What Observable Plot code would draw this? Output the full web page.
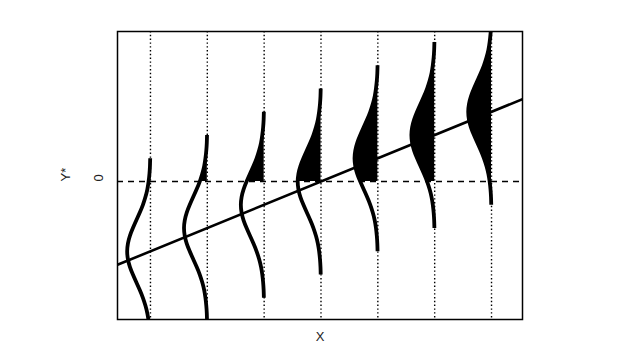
<!DOCTYPE html>
<html>
<head>
<meta charset="utf-8">
<script src="https://cdn.jsdelivr.net/npm/d3@7"></script>
<script src="https://cdn.jsdelivr.net/npm/@observablehq/plot@0.6"></script>
<style>
  html, body { margin: 0; padding: 0; background: #fff; }
  #chart { width: 626px; height: 359px; }
</style>
</head>
<body>
<div id="chart"></div>
<script>
// Positions of the x values (vertical dotted lines)
const xPos = [1, 2, 3, 4, 5, 6, 7];
// Mean of latent Y* at each x (on the regression line)
const means = [-2.25, -1.5, -0.75, 0, 0.75, 1.5, 2.25];
// Density profile: offsets from the mean (in sd) and horizontal widths (x units)
const profileZ = [-3, -2.75, -2.5, -2.25, -2, -1.75, -1.5, -1.25, -1, -0.75, -0.5, -0.25, 0,
                  0.25, 0.5, 0.75, 1, 1.25, 1.5, 1.75, 2, 2.25, 2.5, 2.75, 3];
const profileW = [0.005, 0.009, 0.018, 0.033, 0.055, 0.089, 0.133, 0.188, 0.249, 0.309, 0.362, 0.397, 0.41,
                  0.397, 0.362, 0.309, 0.249, 0.188, 0.133, 0.089, 0.055, 0.033, 0.018, 0.009, 0.005];
// Regression line Y* = intercept + slope * x
const regIntercept = -3;
const regSlope = 0.75;
// Axis texts
const yTickValues = [0];
const yTickLabels = ["0"];
const xLabel = "X";
const yLabel = "Y*";

const xDomain = [0.42, 7.545];
const yDomain = [-4.45, 4.84];

const rows = [];
xPos.forEach((xv, i) => {
  profileZ.forEach((z, j) => {
    rows.push({g: i, xb: xv, x: xv - profileW[j], y: means[i] + z});
  });
});
const regRows = xDomain.map(x => ({x, y: regIntercept + regSlope * x}));

const font = "Liberation Sans, Arial, Helvetica, sans-serif";

const chart = Plot.plot({
  width: 626,
  height: 359,
  marginLeft: 117,
  marginRight: 104,
  marginTop: 31,
  marginBottom: 40,
  style: {fontFamily: font, fontSize: "13px", background: "#fff", color: "#000"},
  x: {domain: xDomain, axis: null},
  y: {domain: yDomain, axis: null},
  marks: [
    Plot.ruleX(xPos, {stroke: "black", strokeWidth: 1.4, strokeDasharray: "1.4,2.4"}),
    Plot.ruleY([0], {stroke: "black", strokeWidth: 1.4, strokeDasharray: "6,5"}),
    Plot.areaX(rows.filter(d => d.y >= 0), {x1: "xb", x2: "x", y: "y", z: "g", fill: "black", curve: "natural", clip: true}),
    Plot.line(rows, {x: "x", y: "y", z: "g", stroke: "black", strokeWidth: 3.8, curve: "natural", strokeLinecap: "butt", clip: true}),
    Plot.line(regRows, {x: "x", y: "y", stroke: "black", strokeWidth: 2.6, clip: true}),
    Plot.ruleY(yTickValues, {x1: xDomain[0], x2: xDomain[0], dx: -3, stroke: "black"}),
    Plot.frame({stroke: "black", strokeWidth: 1.5}),
    Plot.text(yTickValues, {y: d => d, frameAnchor: "left", text: (d, i) => yTickLabels[i], rotate: -90, dx: -19, fill: "#222", fontSize: 13}),
    Plot.text([yLabel], {y: [0], frameAnchor: "left", text: d => d, rotate: -90, dx: -52, fill: "#222", fontSize: 13}),
    Plot.text([xLabel], {frameAnchor: "bottom", text: d => d, dy: 21, fill: "#222", fontSize: 13})
  ]
});
document.getElementById("chart").appendChild(chart);
</script>
</body>
</html>
